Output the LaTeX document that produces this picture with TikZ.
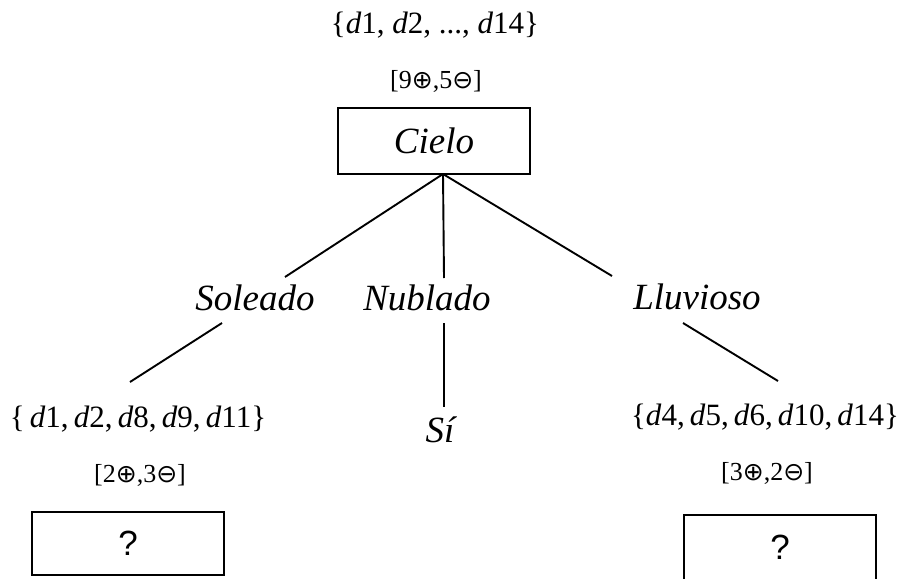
\documentclass[tikz,border=0pt]{standalone}
\usepackage{fontspec}
\setmainfont{Liberation Serif}
\newfontfamily\qfont{Liberation Sans}
\newfontfamily\symfont{DejaVu Sans}
\newcommand{\pos}{{\symfont\fontsize{25}{27}\selectfont ⊕}}
\newcommand{\nega}{{\symfont\fontsize{25}{27}\selectfont ⊖}}
\newcommand{\dd}[1]{\textit{d}#1}
\begin{document}
\begin{tikzpicture}[x=1pt,y=-1pt,
  branch/.style={line width=1.9pt},
  attrbox/.style={draw,line width=2.3pt,minimum width=192pt,inner sep=0pt},
  lbl/.style={anchor=base,inner sep=0pt,font=\fontsize{37}{42}\selectfont\itshape},
  setlbl/.style={anchor=base,inner sep=0pt,font=\fontsize{31}{36}\selectfont},
  cntlbl/.style={anchor=base,inner sep=0pt,font=\fontsize{26}{31}\selectfont}]
\useasboundingbox (0,0) rectangle (904,578);
\clip (0,0) rectangle (904,578);

% root
\node[setlbl] (rootset) at (435,34) {\{\dd1, \dd2, ..., \dd{14}\}};
\node[cntlbl] (rootcnt) at (436,88) {[9\pos,5\nega]};
\node[attrbox,minimum height=66pt,font=\fontsize{37}{42}\selectfont\itshape] (cielo) at (434,141) {Cielo};
\coordinate (root) at (443,174);

% branch labels
\node[lbl] (sol) at (255,310) {Soleado};
\node[lbl] (nub) at (427,310) {Nublado};
\node[lbl] (llu) at (697,309) {Lluvioso};

% leaves
\node[setlbl] (solset) at (138,427) {\{\,\dd1,\,\dd2,\,\dd8,\,\dd9,\,\dd{11}\}};
\node[cntlbl] (solcnt) at (140,482) {[2\pos,3\nega]};
\node[attrbox,minimum height=63pt,font=\qfont\fontsize{35}{40}\selectfont] (solq) at (128,543.5) {?};

\node[lbl] (si) at (440,442) {Sí};

\node[setlbl] (lluset) at (765,425) {\{\dd4,\,\dd5,\,\dd6,\,\dd{10},\,\dd{14}\}};
\node[cntlbl] (llucnt) at (767,480) {[3\pos,2\nega]};
\node[attrbox,minimum height=74pt,font=\qfont\fontsize{35}{40}\selectfont] (lluq) at (780,552) {\raisebox{9pt}{?}};

% connector ends around the branch labels
\coordinate (solin) at (285,277);
\coordinate (solout) at (222,323);
\coordinate (solend) at (130,382);
\coordinate (nubin) at (444,278);
\coordinate (nubout) at (444,323);
\coordinate (nubend) at (444,407);
\coordinate (lluin) at (612,276);
\coordinate (lluout) at (683,323);
\coordinate (lluend) at (778,381);

\draw[branch] (root) -- (solin);
\draw[branch] (solout) -- (solend);
\draw[branch] (root) -- (nubin);
\draw[branch] (nubout) -- (nubend);
\draw[branch] (root) -- (lluin);
\draw[branch] (lluout) -- (lluend);
\end{tikzpicture}
\end{document}
